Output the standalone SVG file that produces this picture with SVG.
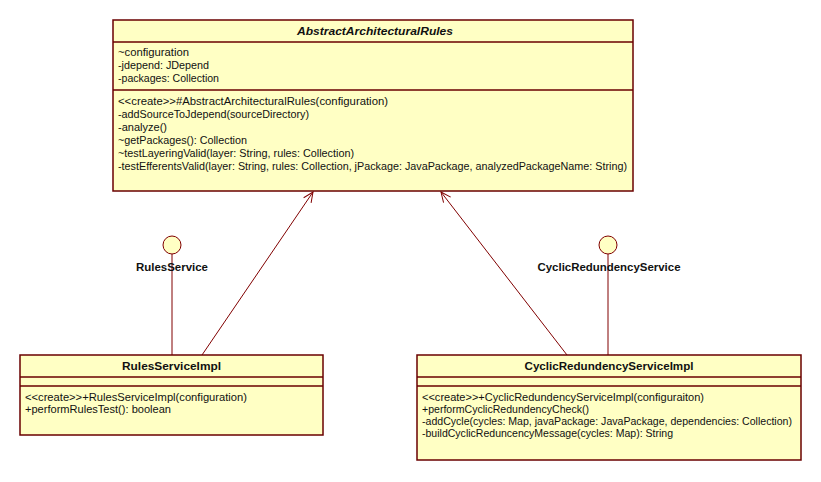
<svg xmlns="http://www.w3.org/2000/svg" width="821" height="482" viewBox="0 0 821 482">
  <defs>
    <style>
      .box { fill: #ffffc4; stroke: #6a0000; stroke-width: 1.5; }
      .sep { stroke: #6a0000; stroke-width: 1.5; }
      .edge { stroke: #800000; stroke-width: 1; fill: none; }
      .iface { fill: #ffffc4; stroke: #800000; stroke-width: 1; }
      text { font-family: "Liberation Sans", Arial, sans-serif; font-size: 11.5px; fill: #111; }
      .title { font-weight: bold; text-anchor: middle; }
      .abstract { font-style: italic; }
      .tight { font-size: 10.5px; }
    </style>
    <marker id="openArrow" viewBox="-11 -6 12 12" refX="0" refY="0" markerWidth="12" markerHeight="12" markerUnits="userSpaceOnUse" orient="auto">
      <path d="M-10,-4.5 L0,0 L-10,4.5" fill="none" stroke="#800000" stroke-width="1"/>
    </marker>
  </defs>
  <rect width="821" height="482" fill="#ffffff"/>

  <!-- connectors: realizations and generalizations -->
  <g id="connectors">
    <line class="edge" x1="172" y1="254" x2="172" y2="355"/>
    <line class="edge" x1="608" y1="254" x2="608" y2="355"/>
    <line class="edge" x1="202" y1="355" x2="313" y2="192" marker-end="url(#openArrow)"/>
    <line class="edge" x1="567" y1="355" x2="441" y2="192" marker-end="url(#openArrow)"/>
  </g>

  <!-- abstract base class -->
  <g id="AbstractArchitecturalRules">
    <rect class="box" x="113" y="20" width="520" height="171"/>
    <line class="sep" x1="113" y1="42" x2="633" y2="42"/>
    <line class="sep" x1="113" y1="90" x2="633" y2="90"/>
    <text class="title abstract" x="375" y="35" textLength="156" lengthAdjust="spacingAndGlyphs">AbstractArchitecturalRules</text>
    <text x="118" y="56" textLength="71" lengthAdjust="spacingAndGlyphs">~configuration</text>
    <text x="118" y="69" textLength="91" lengthAdjust="spacingAndGlyphs">-jdepend: JDepend</text>
    <text x="118" y="82" textLength="101" lengthAdjust="spacingAndGlyphs">-packages: Collection</text>
    <text x="118" y="105" textLength="270" lengthAdjust="spacingAndGlyphs">&lt;&lt;create&gt;&gt;#AbstractArchitecturalRules(configuration)</text>
    <text x="118" y="118" textLength="191" lengthAdjust="spacingAndGlyphs">-addSourceToJdepend(sourceDirectory)</text>
    <text x="118" y="131" textLength="49" lengthAdjust="spacingAndGlyphs">-analyze()</text>
    <text x="118" y="144" textLength="129" lengthAdjust="spacingAndGlyphs">~getPackages(): Collection</text>
    <text x="118" y="157" textLength="236" lengthAdjust="spacingAndGlyphs">~testLayeringValid(layer: String, rules: Collection)</text>
    <text x="118" y="170" textLength="509" lengthAdjust="spacingAndGlyphs">-testEfferentsValid(layer: String, rules: Collection, jPackage: JavaPackage, analyzedPackageName: String)</text>
  </g>

  <!-- provided interfaces -->
  <g id="RulesService">
    <circle class="iface" cx="172" cy="245" r="9"/>
    <text class="title" x="172" y="271" textLength="72" lengthAdjust="spacingAndGlyphs">RulesService</text>
  </g>
  <g id="CyclicRedundencyService">
    <circle class="iface" cx="608" cy="245" r="9"/>
    <text class="title" x="609" y="271" textLength="143" lengthAdjust="spacingAndGlyphs">CyclicRedundencyService</text>
  </g>

  <!-- implementation classes -->
  <g id="RulesServiceImpl">
    <rect class="box" x="20" y="355" width="303" height="80"/>
    <line class="sep" x1="20" y1="377" x2="323" y2="377"/>
    <line class="sep" x1="20" y1="386" x2="323" y2="386"/>
    <text class="title" x="171.5" y="370" textLength="99" lengthAdjust="spacingAndGlyphs">RulesServiceImpl</text>
    <text x="25" y="401" textLength="222" lengthAdjust="spacingAndGlyphs">&lt;&lt;create&gt;&gt;+RulesServiceImpl(configuration)</text>
    <text x="25" y="413" textLength="146" lengthAdjust="spacingAndGlyphs">+performRulesTest(): boolean</text>
  </g>
  <g id="CyclicRedundencyServiceImpl">
    <rect class="box" x="417" y="355" width="384" height="105"/>
    <line class="sep" x1="417" y1="377" x2="801" y2="377"/>
    <line class="sep" x1="417" y1="386" x2="801" y2="386"/>
    <text class="title" x="609" y="370" textLength="169" lengthAdjust="spacingAndGlyphs">CyclicRedundencyServiceImpl</text>
    <text x="422" y="401" textLength="282" lengthAdjust="spacingAndGlyphs">&lt;&lt;create&gt;&gt;+CyclicRedundencyServiceImpl(configuraiton)</text>
    <text x="422" y="413" textLength="167" lengthAdjust="spacingAndGlyphs">+performCyclicRedundencyCheck()</text>
    <text class="tight" x="422" y="425" textLength="370" lengthAdjust="spacingAndGlyphs">-addCycle(cycles: Map, javaPackage: JavaPackage, dependencies: Collection)</text>
    <text x="422" y="437" textLength="251" lengthAdjust="spacingAndGlyphs">-buildCyclicReduncencyMessage(cycles: Map): String</text>
  </g>
</svg>
